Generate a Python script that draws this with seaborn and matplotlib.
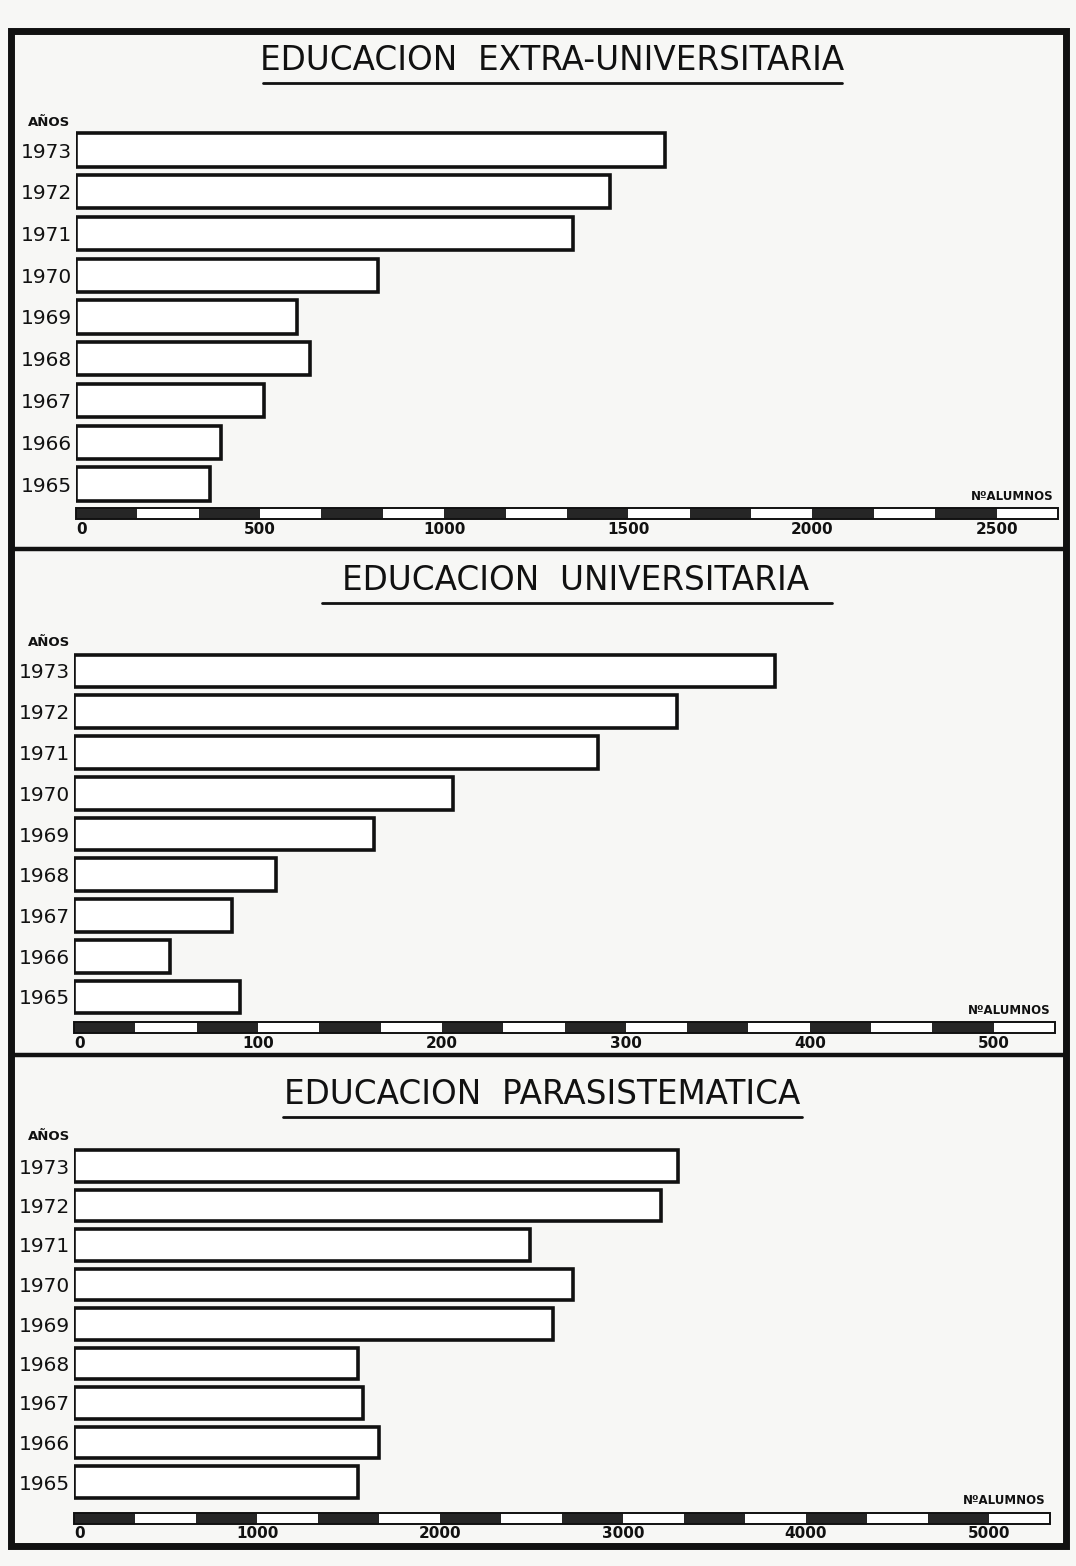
import matplotlib
matplotlib.use("Agg")
import matplotlib.pyplot as plt
from matplotlib.patches import Rectangle
import seaborn as sns
import pandas as pd

sns.set_theme(style="white")
plt.rcParams["font.family"] = ["DejaVu Sans"]

# ---- data -----------------------------------------------------------------
years = ["1973", "1972", "1971", "1970", "1969", "1968", "1967", "1966", "1965"]

extra_universitaria = [1600, 1450, 1350, 820, 600, 635, 510, 395, 365]
universitaria = [381, 328, 285, 206, 163, 110, 86, 52, 90]
parasistematica = [3300, 3210, 2490, 2725, 2620, 1550, 1580, 1665, 1550]

titles = [
    "EDUCACION  EXTRA-UNIVERSITARIA",
    "EDUCACION  UNIVERSITARIA",
    "EDUCACION  PARASISTEMATICA",
]
scale_ticks = [
    [0, 500, 1000, 1500, 2000, 2500],
    [0, 100, 200, 300, 400, 500],
    [0, 1000, 2000, 3000, 4000, 5000],
]
scale_ends = [2666.67, 533.33, 5333.33]
axis_title = "AÑOS"
scale_title = "NºALUMNOS"

# ---- layout (pixels) -------------------------------------------------------
W, H = 1076, 1566
panels = [
    dict(values=extra_universitaria, x0=76, x1=1058, c0=150, c8=484, sy=513,
         title_y=60, title_x=552, line=(263, 842, 83), anos_y=123),
    dict(values=universitaria, x0=74, x1=1055, c0=671, c8=997, sy=1027,
         title_y=580, title_x=576, line=(322, 832, 603), anos_y=643),
    dict(values=parasistematica, x0=74, x1=1050, c0=1166, c8=1482, sy=1518,
         title_y=1094, title_x=542, line=(283, 802, 1117), anos_y=1137),
]

bg = "#f7f7f5"
fig = plt.figure(figsize=(W / 100, H / 100), dpi=100, facecolor=bg)
fig_ax = fig.add_axes([0, 0, 1, 1])
fig_ax.set_xlim(0, W)
fig_ax.set_ylim(H, 0)
fig_ax.axis("off")
fig_ax.patch.set_alpha(0)

# outer frame and panel separators
fig_ax.add_patch(Rectangle((11, 31), 1055, 1515, fill=False, ec="#111111", lw=5))
for y in (549, 1055):
    fig_ax.plot([11, 1066], [y, y], color="#111111", lw=3.2)

for i, p in enumerate(panels):
    sp = (p["c8"] - p["c0"]) / 8.0
    top_px = p["c0"] - 0.5 * sp
    bot_px = p["sy"] + 32
    ax = fig.add_axes([p["x0"] / W, 1 - bot_px / H,
                       (p["x1"] - p["x0"]) / W, (bot_px - top_px) / H])
    ax.patch.set_alpha(0)

    df = pd.DataFrame({"year": years, "alumnos": p["values"]})
    sns.barplot(data=df, x="alumnos", y="year", order=years, orient="h",
                color="white", edgecolor="#111111", linewidth=2.6,
                width=0.8, ax=ax)

    end = scale_ends[i]
    bot_cat = (bot_px - p["c0"]) / sp
    ax.set_xlim(0, end)
    ax.set_ylim(bot_cat, -0.5)
    for s in ax.spines.values():
        s.set_visible(False)
    ax.set_xlabel("")
    ax.set_ylabel("")
    ax.set_xticks([])
    ax.tick_params(axis="y", length=0, pad=3)
    for lbl in ax.get_yticklabels():
        lbl.set_fontsize(14.5)
        lbl.set_color("#111111")

    # graduated scale bar: alternating dark / light segments
    seg = scale_ticks[i][1] / 3.0
    sy_cat = (p["sy"] - p["c0"]) / sp
    hh = 5.5 / sp
    n = int(round(end / seg))
    for k in range(n):
        ax.add_patch(Rectangle((k * seg, sy_cat - hh), seg, 2 * hh,
                               facecolor="#262626" if k % 2 == 0 else "white",
                               edgecolor="none", clip_on=False))
    ax.add_patch(Rectangle((0, sy_cat - hh), n * seg, 2 * hh, fill=False,
                           edgecolor="#111111", lw=1.4, clip_on=False))
    lab_cat = (p["sy"] + 16 - p["c0"]) / sp
    for t in scale_ticks[i]:
        ax.text(t, lab_cat, f"{t}", ha="center" if t else "left", va="center",
                fontsize=11, fontweight="bold", color="#111111")
    na_cat = (p["sy"] - 17 - p["c0"]) / sp
    ax.text(end * 0.995, na_cat, scale_title, ha="right", va="center",
            fontsize=8.5, fontweight="bold", color="#111111")

    # title with underline
    fig_ax.text(p["title_x"], p["title_y"], titles[i], ha="center", va="center",
                fontsize=23.5, color="#111111")
    lx0, lx1, ly = p["line"]
    fig_ax.plot([lx0, lx1], [ly, ly], color="#111111", lw=2)
    fig_ax.text(28, p["anos_y"], axis_title, ha="left", va="center",
                fontsize=9.5, fontweight="bold", color="#111111")

fig.savefig("out.png", dpi=100, facecolor=bg)
